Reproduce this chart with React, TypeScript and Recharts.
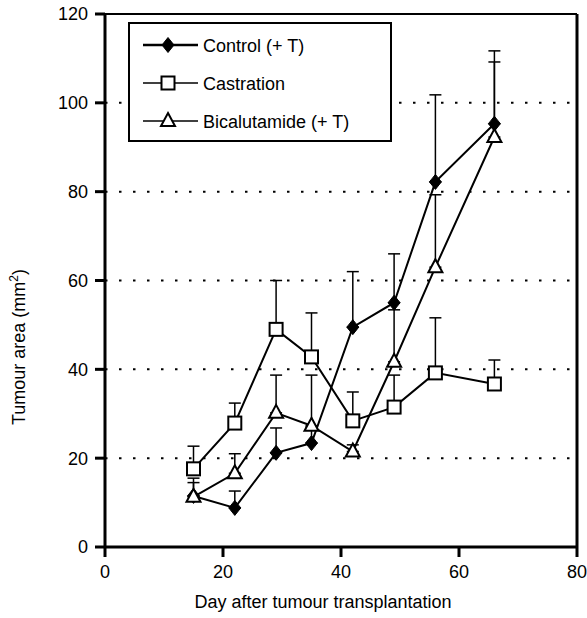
import { LineChart, Line, XAxis, YAxis, CartesianGrid, ErrorBar, ReferenceLine, Legend } from 'recharts';

const days = [15, 22, 29, 35, 42, 49, 56, 66];
const control = [11.5, 8.8, 21.2, 23.4, 49.5, 55, 82.2, 95.3];
const controlErr = [3, 3.8, 5.6, 3.6, 12.5, 11, 19.6, 16.4];
const castration = [17.6, 27.9, 49, 42.8, 28.4, 31.5, 39.2, 36.7];
const castrationErr = [5.1, 4.5, 11, 9.9, 6.5, 7.2, 12.4, 5.4];
const bicalutamide = [11.3, 16.6, 30.2, 27.3, 21.5, 41.7, 63, 92.3];
const bicalutamideErr = [4.2, 4.4, 8.5, 11.4, 1.5, 11.7, 16.3, 16.9];

const xTicks = [0, 20, 40, 60, 80];
const yTicks = [0, 20, 40, 60, 80, 100, 120];

const FONT = '"Liberation Sans", Arial, Helvetica, sans-serif';

const data = days.map((d, i) => ({
    day: d,
    control: control[i],
    controlErr: [0, controlErr[i]],
    castration: castration[i],
    castrationErr: [0, castrationErr[i]],
    bical: bicalutamide[i],
    bicalErr: [0, bicalutamideErr[i]],
}));

const diamond = (cx: number, cy: number, key?: any) => (
    <polygon key={key} points={`${cx},${cy - 7.5} ${cx + 6},${cy} ${cx},${cy + 7.5} ${cx - 6},${cy}`} fill="#000" stroke="#000" strokeWidth={1} />
);
const square = (cx: number, cy: number, key?: any) => (
    <rect key={key} x={cx - 6.5} y={cy - 6.5} width={13} height={13} fill="#fff" stroke="#000" strokeWidth={2} />
);
const triangle = (cx: number, cy: number, key?: any) => (
    <polygon key={key} points={`${cx},${cy - 8} ${cx + 7},${cy + 5} ${cx - 7},${cy + 5}`} fill="#fff" stroke="#000" strokeWidth={2} strokeLinejoin="miter" />
);

const legendItems = [
    { name: 'Control (+ T)', shape: diamond, w: 2.5 },
    { name: 'Castration', shape: square, w: 1.5 },
    { name: 'Bicalutamide (+ T)', shape: triangle, w: 1.5 },
];

function LegendBox() {
    return (
        <svg width={264} height={120} style={{ display: 'block' }}>
            <rect x={1} y={1} width={262} height={118} fill="#fff" stroke="#000" strokeWidth={2} />
            {legendItems.map((it, i) => {
                const y = 23 + i * 38;
                return (
                    <g key={it.name}>
                        <line x1={15} x2={70} y1={y} y2={y} stroke="#000" strokeWidth={it.w} />
                        {it.shape(40, y)}
                        <text x={75} y={y + 6.5} fontSize={18} fontFamily={FONT} fill="#000">{it.name}</text>
                    </g>
                );
            })}
        </svg>
    );
}

export default function App() {
    return (
        <div style={{ position: 'absolute', left: 0, top: 0, background: '#fff' }}>
            <LineChart width={587} height={618} data={data} margin={{ top: 14, right: 10, left: 0, bottom: 0 }}>
                <CartesianGrid horizontal vertical={false} stroke="#000" strokeWidth={2} strokeDasharray="2.5 11.5" />
                <XAxis
                    dataKey="day"
                    type="number"
                    domain={[0, 80]}
                    ticks={xTicks}
                    height={71}
                    tickSize={10}
                    tickMargin={8}
                    axisLine={{ stroke: '#000', strokeWidth: 3 }}
                    tickLine={{ stroke: '#000', strokeWidth: 3 }}
                    tick={{ fill: '#000', fontSize: 18, fontFamily: FONT }}
                    label={{
                        content: () => (
                            <text x={323} y={608} textAnchor="middle" fontSize={18} fontFamily={FONT} fill="#000">
                                Day after tumour transplantation
                            </text>
                        ),
                    }}
                />
                <YAxis
                    type="number"
                    domain={[0, 120]}
                    ticks={yTicks}
                    width={105}
                    tickSize={10}
                    tickMargin={7}
                    axisLine={{ stroke: '#000', strokeWidth: 3 }}
                    tickLine={{ stroke: '#000', strokeWidth: 3 }}
                    tick={{ fill: '#000', fontSize: 18, fontFamily: FONT }}
                    label={{
                        content: () => (
                            <text transform="translate(25,347) rotate(-90)" textAnchor="middle" fontSize={18} fontFamily={FONT} fill="#000">
                                Tumour area (mm<tspan dy={-7} fontSize={12}>2</tspan><tspan dy={7}>)</tspan>
                            </text>
                        ),
                    }}
                />
                <ReferenceLine y={120} stroke="#000" strokeWidth={2} />
                <ReferenceLine x={80} stroke="#000" strokeWidth={3} />
                <Line
                    dataKey="control"
                    stroke="#000"
                    strokeWidth={2}
                    isAnimationActive={false}
                    dot={(p: any) => diamond(p.cx, p.cy, `c${p.index}`)}
                >
                    <ErrorBar dataKey="controlErr" direction="y" width={6} stroke="#000" strokeWidth={1.5} />
                </Line>
                <Line
                    dataKey="castration"
                    stroke="#000"
                    strokeWidth={2}
                    isAnimationActive={false}
                    dot={(p: any) => square(p.cx, p.cy, `s${p.index}`)}
                >
                    <ErrorBar dataKey="castrationErr" direction="y" width={6} stroke="#000" strokeWidth={1.5} />
                </Line>
                <Line
                    dataKey="bical"
                    stroke="#000"
                    strokeWidth={2}
                    isAnimationActive={false}
                    dot={(p: any) => triangle(p.cx, p.cy, `t${p.index}`)}
                >
                    <ErrorBar dataKey="bicalErr" direction="y" width={6} stroke="#000" strokeWidth={1.5} />
                </Line>
                <Legend
                    layout="vertical"
                    align="center"
                    verticalAlign="middle"
                    wrapperStyle={{ left: 128, top: 22, width: 264, height: 120 }}
                    content={() => <LegendBox />}
                />
            </LineChart>
        </div>
    );
}
